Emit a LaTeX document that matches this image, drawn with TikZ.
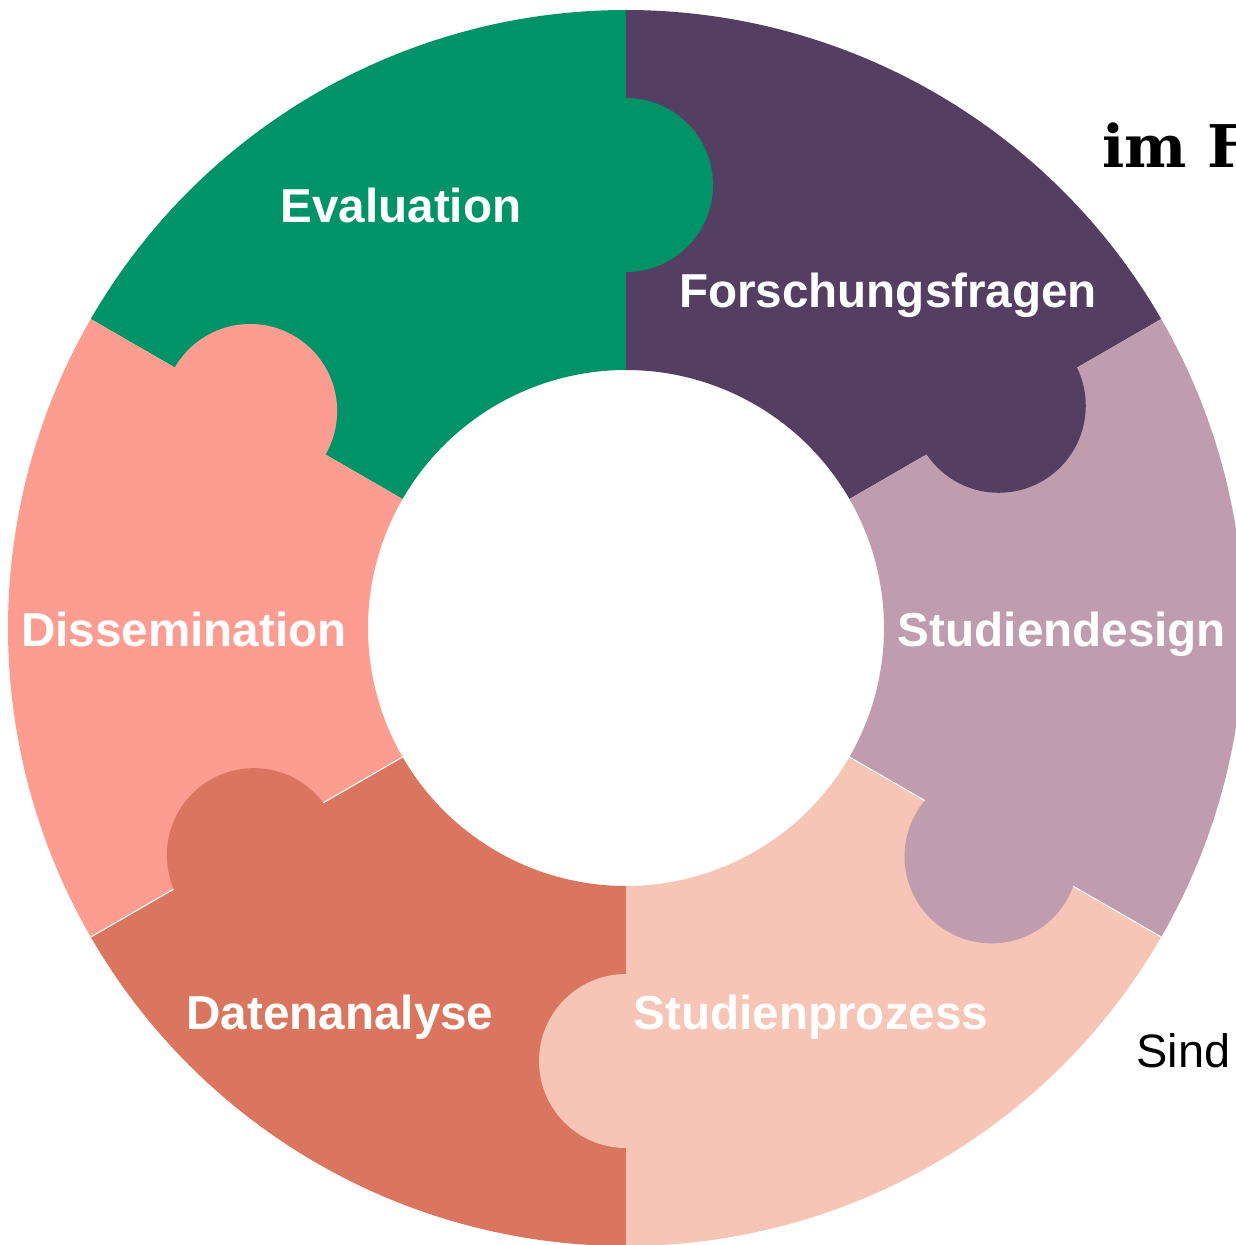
\documentclass[tikz,border=0pt]{standalone}
\usepackage{fontspec}
\setmainfont{Liberation Serif}
\setsansfont{Liberation Sans}
\newfontfamily\widefont{DejaVu Serif}
\definecolor{evalgreen}{HTML}{009367}
\definecolor{fragenpurple}{HTML}{543F63}
\definecolor{designmauve}{HTML}{C09DAE}
\definecolor{prozesspeach}{HTML}{F6C5B6}
\definecolor{analyseorange}{HTML}{DA765F}
\definecolor{dissrose}{HTML}{FD9C90}

\begin{document}
\begin{tikzpicture}[x=0.02cm,y=0.02cm,
  piecetext/.style={text=white,inner sep=0pt,anchor=base,
    font=\fontsize{27.1}{32}\selectfont\sffamily\bfseries}]
	\fill[white] (-626,-617) rectangle (610,628);
	\useasboundingbox (-626,-617) rectangle (610,628);
	\clip (-626,-617) rectangle (610,628);
	% Ring pieces, each one starts at its clockwise edge
	\foreach \a/\c in {90/evalgreen,30/fragenpurple,-30/designmauve,
	  -90/prozesspeach,210/analyseorange,150/dissrose}
	  \fill[\c] (\a:618) arc[start angle=\a,end angle=\a+60,radius=618]
	    -- (\a+60:258) arc[start angle=\a+60,end angle=\a,radius=258] -- cycle;
	% Thin seams between some pieces
	\foreach \a in {-30,210}
	  \draw[white,line width=0.6pt] (\a:258) -- (\a:618);
	% Puzzle tabs reach into the next piece
	\foreach \a/\d/\c in {90/443/evalgreen,30.8/434/fragenpurple,-32/431/designmauve,
	  -90/433/prozesspeach,211.4/436/analyseorange,150/434/dissrose}
	  \fill[\c] (\a:\d) circle[radius=87];
	% Labels
	\node[piecetext] (evaluation) at (-225,405) {Evaluation};
	\node[piecetext] (fragen) at (262,320) {Forschungsfragen};
	\node[piecetext] (design) at (436,-18) {Studiendesign};
	\node[piecetext] (prozess) at (185,-401) {Studienprozess};
	\node[piecetext] (analyse) at (-286,-401) {Datenanalyse};
	\node[piecetext] (dissemination) at (-442,-18) {Dissemination};
	% Cut-off text at the right edge
	\node[anchor=base west,inner sep=0pt,font=\fontsize{33.5}{40}\selectfont\widefont\bfseries] (imf) at (476,460) {im F};
	\node[anchor=base west,inner sep=0pt,font=\fontsize{26.7}{32}\selectfont\sffamily] (sind) at (510,-439) {Sind};
\end{tikzpicture}
\end{document}
